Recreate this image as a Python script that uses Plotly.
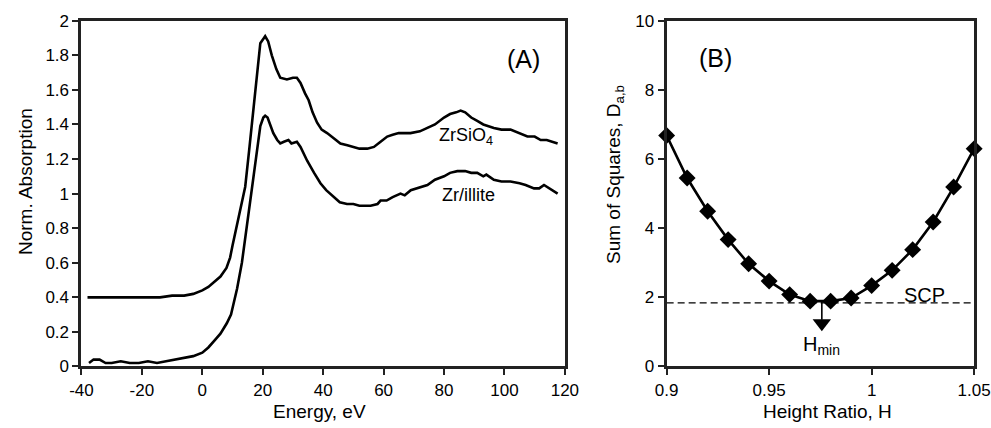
import plotly.graph_objects as go

# ---- Panel A: XANES spectra ----
energy_zrsio4 = [-38, -30, -20, -14, -10, -6, -3, 0, 2, 4, 6, 8, 9.2, 10, 11.5, 13, 14.2, 15.5, 17, 18.1,
                 19.2, 20, 20.8, 21.8, 23, 24.5, 25.8, 28, 30, 31.3, 32.5, 34, 35.2, 36.5, 38, 39.5,
                 41.3, 43.5, 45.7, 48, 50, 52, 54.6, 56.8, 59, 61.2, 63, 65, 68.9, 72, 74.5, 77, 80,
                 82, 84, 85.5, 87, 89, 91, 93, 96.5, 99, 102, 105, 107.6, 110, 112, 114, 115.5, 117.6]
abs_zrsio4 = [0.40, 0.40, 0.40, 0.40, 0.41, 0.41, 0.42, 0.44, 0.46, 0.49, 0.52, 0.57, 0.63, 0.70, 0.82, 0.93,
              1.04, 1.25, 1.50, 1.66, 1.87, 1.89, 1.91, 1.88, 1.80, 1.72, 1.67, 1.66, 1.67, 1.67, 1.64,
              1.58, 1.54, 1.47, 1.41, 1.37, 1.35, 1.32, 1.29, 1.28, 1.27, 1.26, 1.26, 1.27, 1.30, 1.33,
              1.34, 1.35, 1.35, 1.36, 1.38, 1.40, 1.44, 1.46, 1.47, 1.48, 1.47, 1.44, 1.42, 1.40, 1.38,
              1.37, 1.37, 1.35, 1.33, 1.33, 1.31, 1.31, 1.30, 1.29]

energy_illite = [-37.5, -36, -34, -32, -30, -27, -24, -21, -18, -15, -12, -9, -6, -3, 0, 2, 4, 6, 8.1,
                 9.5, 10.3, 11.5, 13.1, 14.2, 15.3, 16.2, 17, 18, 19.2, 20.2, 20.8, 21.6, 22.5, 23.5,
                 24.8, 25.8, 27, 28.5, 29.5, 31.3, 32.5, 34.7, 37, 39.1, 41, 43.5, 45.5, 47.9, 50, 52,
                 55.7, 58, 59, 61, 63, 65.6, 67, 69, 71, 74.5, 77, 80, 82, 84.4, 87, 89, 91, 93, 94,
                 96.5, 99, 102, 105, 107, 109.8, 111.5, 113.1, 115, 117.6]
abs_illite = [0.02, 0.04, 0.04, 0.02, 0.02, 0.03, 0.02, 0.02, 0.03, 0.02, 0.03, 0.04, 0.05, 0.06, 0.08,
              0.11, 0.15, 0.19, 0.25, 0.30, 0.36, 0.45, 0.60, 0.74, 0.88, 0.98, 1.08, 1.22, 1.39, 1.44,
              1.45, 1.44, 1.40, 1.35, 1.31, 1.29, 1.30, 1.31, 1.29, 1.30, 1.27, 1.19, 1.12, 1.06, 1.02,
              0.98, 0.95, 0.94, 0.94, 0.93, 0.93, 0.94, 0.96, 0.96, 0.98, 1.00, 0.99, 1.02, 1.03, 1.05,
              1.08, 1.10, 1.12, 1.13, 1.13, 1.12, 1.12, 1.10, 1.11, 1.08, 1.07, 1.07, 1.06, 1.05, 1.03,
              1.03, 1.05, 1.03, 1.00]

# ---- Panel B: sum of squares vs height ratio ----
height_ratio = [0.90, 0.91, 0.92, 0.93, 0.94, 0.95, 0.96, 0.97, 0.98, 0.99, 1.00, 1.01, 1.02, 1.03, 1.04, 1.05]
sum_squares = [6.68, 5.45, 4.49, 3.67, 2.97, 2.47, 2.08, 1.89, 1.89, 1.98, 2.34, 2.78, 3.38, 4.18, 5.19, 6.30]
scp_value = 1.84
h_min = 0.9757

# tick labels
xA_ticks = [-40, -20, 0, 20, 40, 60, 80, 100, 120]
xA_text = ["-40", "-20", "0", "20", "40", "60", "80", "100", "120"]
yA_ticks = [0, 0.2, 0.4, 0.6, 0.8, 1, 1.2, 1.4, 1.6, 1.8, 2]
yA_text = ["0", "0.2", "0.4", "0.6", "0.8", "1", "1.2", "1.4", "1.6", "1.8", "2"]
xB_ticks = [0.9, 0.95, 1.0, 1.05]
xB_text = ["0.9", "0.95", "1", "1.05"]
yB_ticks = [0, 2, 4, 6, 8, 10]

FONT = "Liberation Sans, Arial, sans-serif"
fig = go.Figure()

fig.add_trace(go.Scatter(x=energy_zrsio4, y=abs_zrsio4, mode="lines",
                         line=dict(color="black", width=2.6), xaxis="x", yaxis="y", showlegend=False))
fig.add_trace(go.Scatter(x=energy_illite, y=abs_illite, mode="lines",
                         line=dict(color="black", width=2.6), xaxis="x", yaxis="y", showlegend=False))

# SCP dashed line
fig.add_trace(go.Scatter(x=[xB_ticks[0], xB_ticks[-1]], y=[scp_value, scp_value], mode="lines",
                         line=dict(color="black", width=1.4, dash="7px,4px"),
                         xaxis="x2", yaxis="y2", showlegend=False))
# H_min arrow
fig.add_trace(go.Scatter(x=[h_min, h_min], y=[1.88, 1.35], mode="lines",
                         line=dict(color="black", width=1.6), xaxis="x2", yaxis="y2", showlegend=False))
fig.add_trace(go.Scatter(x=[h_min], y=[1.25], mode="markers",
                         marker=dict(symbol="triangle-down", size=16, color="black"),
                         xaxis="x2", yaxis="y2", showlegend=False))
fig.add_trace(go.Scatter(x=height_ratio, y=sum_squares, mode="lines+markers",
                         line=dict(color="black", width=2.6),
                         marker=dict(symbol="diamond", size=13, color="black"),
                         cliponaxis=False, xaxis="x2", yaxis="y2", showlegend=False))

axis_common = dict(showline=True, linecolor="#222", linewidth=3, mirror=True, ticks="outside",
                   ticklen=6, tickwidth=1.5, tickcolor="#222", showgrid=False, zeroline=False,
                   automargin=False,
                   tickfont=dict(family=FONT, size=17, color="black"))

fig.update_layout(
    width=991, height=428,
    margin=dict(l=0, r=0, t=0, b=0, autoexpand=False),
    paper_bgcolor="white", plot_bgcolor="white",
    font=dict(family=FONT, color="black"),
    xaxis=dict(domain=[0.0822, 0.570], range=[-40, 120], tickvals=xA_ticks, ticktext=xA_text, anchor="y",
               **axis_common),
    yaxis=dict(domain=[0.1437, 0.9516], range=[0, 2], tickvals=yA_ticks, ticktext=yA_text, anchor="x",
               **axis_common),
    xaxis2=dict(domain=[0.6727, 0.983], range=[0.9, 1.05], tickvals=xB_ticks, ticktext=xB_text, anchor="y2",
                **axis_common),
    yaxis2=dict(domain=[0.1437, 0.9516], range=[0, 10], tickvals=yB_ticks, anchor="x2", **axis_common),
    annotations=[
        # axis titles
        dict(x=319 / 991, y=1 - 411 / 428, xref="paper", yref="paper", text="Energy, eV", showarrow=False,
             xanchor="center", yanchor="middle", font=dict(family=FONT, size=19, color="black")),
        dict(x=827 / 991, y=1 - 411 / 428, xref="paper", yref="paper", text="Height Ratio, H", showarrow=False,
             xanchor="center", yanchor="middle", font=dict(family=FONT, size=19, color="black")),
        dict(x=25 / 991, y=1 - 182 / 428, xref="paper", yref="paper", text="Norm. Absorption", showarrow=False,
             textangle=-90, xanchor="center", yanchor="middle", font=dict(family=FONT, size=19, color="black")),
        dict(x=615 / 991, y=1 - 175 / 428, xref="paper", yref="paper", text="Sum of Squares, D<sub>a,b</sub>",
             showarrow=False, textangle=-90, xanchor="center", yanchor="middle",
             font=dict(family=FONT, size=19, color="black")),
        # in-plot labels
        dict(x=106.4, y=1.78, xref="x", yref="y", text="(A)", showarrow=False,
             font=dict(family=FONT, size=25, color="black")),
        dict(x=87.2, y=1.33, xref="x", yref="y", text="ZrSiO<sub>4</sub>", showarrow=False,
             font=dict(family=FONT, size=18, color="black")),
        dict(x=88.2, y=0.99, xref="x", yref="y", text="Zr/illite", showarrow=False,
             font=dict(family=FONT, size=18, color="black")),
        dict(x=0.9236, y=8.93, xref="x2", yref="y2", text="(B)", showarrow=False,
             font=dict(family=FONT, size=25, color="black")),
        dict(x=1.026, y=2.08, xref="x2", yref="y2", text="SCP", showarrow=False,
             font=dict(family=FONT, size=20, color="black")),
        dict(x=0.9757, y=0.62, xref="x2", yref="y2", text="H<sub>min</sub>", showarrow=False,
             font=dict(family=FONT, size=20, color="black")),
    ],
)

fig.write_html("out.html", config={"displayModeBar": False},
               post_script="document.body.style.margin='0';document.body.style.overflow='hidden';")
